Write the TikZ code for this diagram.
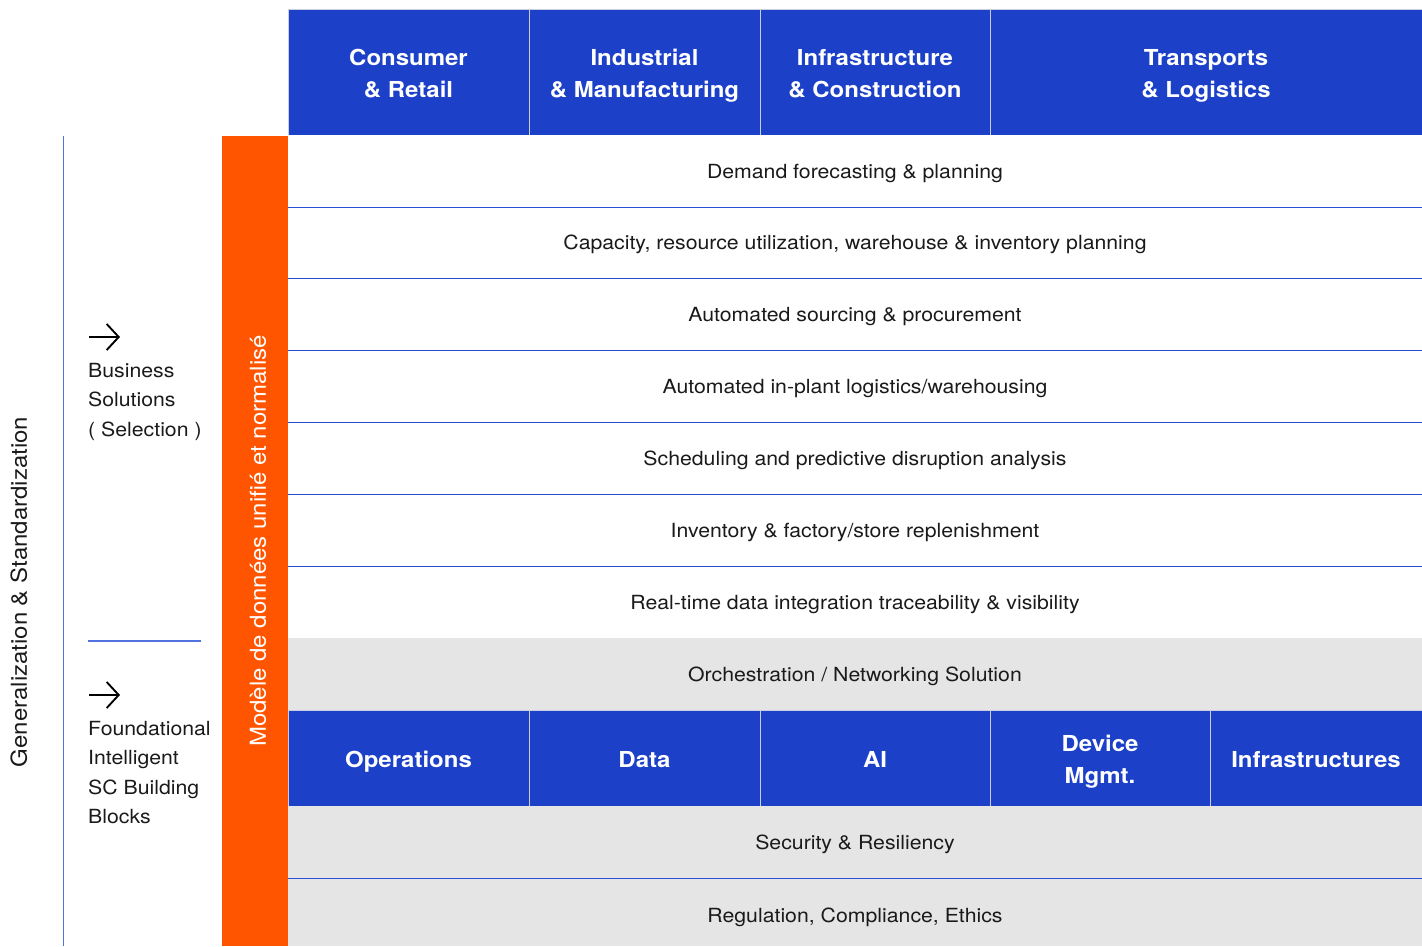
\documentclass[tikz,border=0pt]{standalone}
\usepackage{fontspec}
\setmainfont{TeX Gyre Heros}[FakeStretch=1.09]
\usetikzlibrary{arrows.meta}
\definecolor{hblue}{HTML}{1C40C8}
\definecolor{lblue}{HTML}{2A4FD6}
\definecolor{sideline}{HTML}{5073E0}
\definecolor{orng}{HTML}{FF5500}
\definecolor{lgrey}{HTML}{E5E5E5}
\definecolor{txt}{HTML}{1A1A1A}
\definecolor{divcol}{HTML}{C9CEE6}
\newcommand{\dph}{\vphantom{g}}
\begin{document}
\begin{tikzpicture}[x=1pt,y=-1pt,
  hcell/.style={fill=hblue,draw=divcol,line width=0.8pt,inner sep=0pt,outer sep=0pt,minimum height=#1},
  hcell/.default=126,
  htext/.style={text=white,align=center,inner sep=0pt,font=\fontsize{22}{32}\selectfont\bfseries},
  rowcell/.style={fill=white,inner sep=0pt,outer sep=0pt,minimum width=1134,minimum height=#1,
    text=txt,text height=18pt,text depth=4pt,font=\fontsize{19.5}{24}\selectfont},
  rowcell/.default=72,
  greycell/.style={rowcell=#1,fill=lgrey},
  greycell/.default=72,
  sep/.style={draw=lblue,line width=0.9pt},
  sidetext/.style={text=txt,align=left,anchor=north west,inner sep=0pt,font=\fontsize{19.5}{29.3}\selectfont},
  rottext/.style={rotate=90,inner sep=0pt,font=\fontsize{22}{24}\selectfont},
  arr/.style={-{Straight Barb[length=12pt,width=26pt]},line width=1.9pt,black}
]
\useasboundingbox (0,0) rectangle (1422,946);

% top header
\node[hcell,minimum width=241] (h1) at (408.5,72) {};
\node[hcell,minimum width=231] (h2) at (644.5,72) {};
\node[hcell,minimum width=230] (h3) at (875,72) {};
\node[hcell,minimum width=432] (h4) at (1206,72) {};
\node[htext] (h1t) at ([yshift=-4pt]h1.center) {Consumer\\\& Retail\dph};
\node[htext] (h2t) at ([yshift=-4pt]h2.center) {Industrial\\\& Manufacturing\dph};
\node[htext] (h3t) at ([yshift=-4pt]h3.center) {Infrastructure\\\& Construction\dph};
\node[htext] (h4t) at ([yshift=-4pt]h4.center) {Transports\\\& Logistics\dph};

% orange bar
\node[fill=orng,inner sep=0pt,outer sep=0pt,minimum width=66,minimum height=810] (orange) at (255,541) {};
\node[rottext,text=white] (model) at (258,541) {Modèle de données unifié et normalisé};

% rows
\node[rowcell] (r1) at (855,171) {Demand forecasting \& planning};
\node[rowcell] (r2) at (855,242) {Capacity, resource utilization, warehouse \& inventory planning};
\node[rowcell] (r3) at (855,314) {Automated sourcing \& procurement};
\node[rowcell] (r4) at (855,386) {Automated in-plant logistics/warehousing};
\node[rowcell] (r5) at (855,458) {Scheduling and predictive disruption analysis};
\node[rowcell] (r6) at (855,530) {Inventory \& factory/store replenishment};
\node[rowcell] (r7) at (855,602) {Real-time data integration traceability \& visibility};
\node[greycell] (r8) at (855,674) {Orchestration / Networking Solution};

% bottom header
\node[hcell=96,minimum width=241] (b1) at (408.5,758) {};
\node[hcell=96,minimum width=231] (b2) at (644.5,758) {};
\node[hcell=96,minimum width=230] (b3) at (875,758) {};
\node[hcell=96,minimum width=220] (b4) at (1100,758) {};
\node[hcell=96,minimum width=212] (b5) at (1316,758) {};
\node[htext] (b1t) at ([yshift=-4pt]b1.center) {Operations\dph};
\node[htext] (b2t) at ([yshift=-4pt]b2.center) {Data\dph};
\node[htext] (b3t) at ([yshift=-4pt]b3.center) {AI\dph};
\node[htext] (b4t) at ([yshift=-4pt]b4.center) {Device\\Mgmt.\dph};
\node[htext] (b5t) at ([yshift=-4pt]b5.center) {Infrastructures\dph};

\node[greycell] (r9) at (855,842) {Security \& Resiliency};
\node[greycell=68,text height=24pt] (r10) at (855,912) {Regulation, Compliance, Ethics};

% separators
\foreach \a in {r1,r2,r3,r4,r5,r6}{\draw[sep] (\a.south west) -- (\a.south east);}
\draw[sep] (r9.south west) -- (r9.south east);

% left side
\coordinate (lt) at (63.5,136);
\coordinate (lb) at (63.5,946);
\draw[draw=sideline,line width=1.1pt] (lt) -- (lb);
\node[rottext,text=txt] (gen) at (19,592) {Generalization \& Standardization};

\coordinate (a1s) at (89,337);
\coordinate (a1e) at (120,337);
\draw[arr] (a1s) -- (a1e);
\node[sidetext] (bus) at (88,363) {Business\\Solutions\\( Selection )};

\coordinate (hl1) at (88,641);
\coordinate (hl2) at (201,641);
\draw[draw=sideline,line width=1.1pt] (hl1) -- (hl2);

\coordinate (a2s) at (89,695);
\coordinate (a2e) at (120,695);
\draw[arr] (a2s) -- (a2e);
\node[sidetext] (found) at (88,721) {Foundational\\Intelligent\\SC Building\\Blocks};
\end{tikzpicture}
\end{document}
